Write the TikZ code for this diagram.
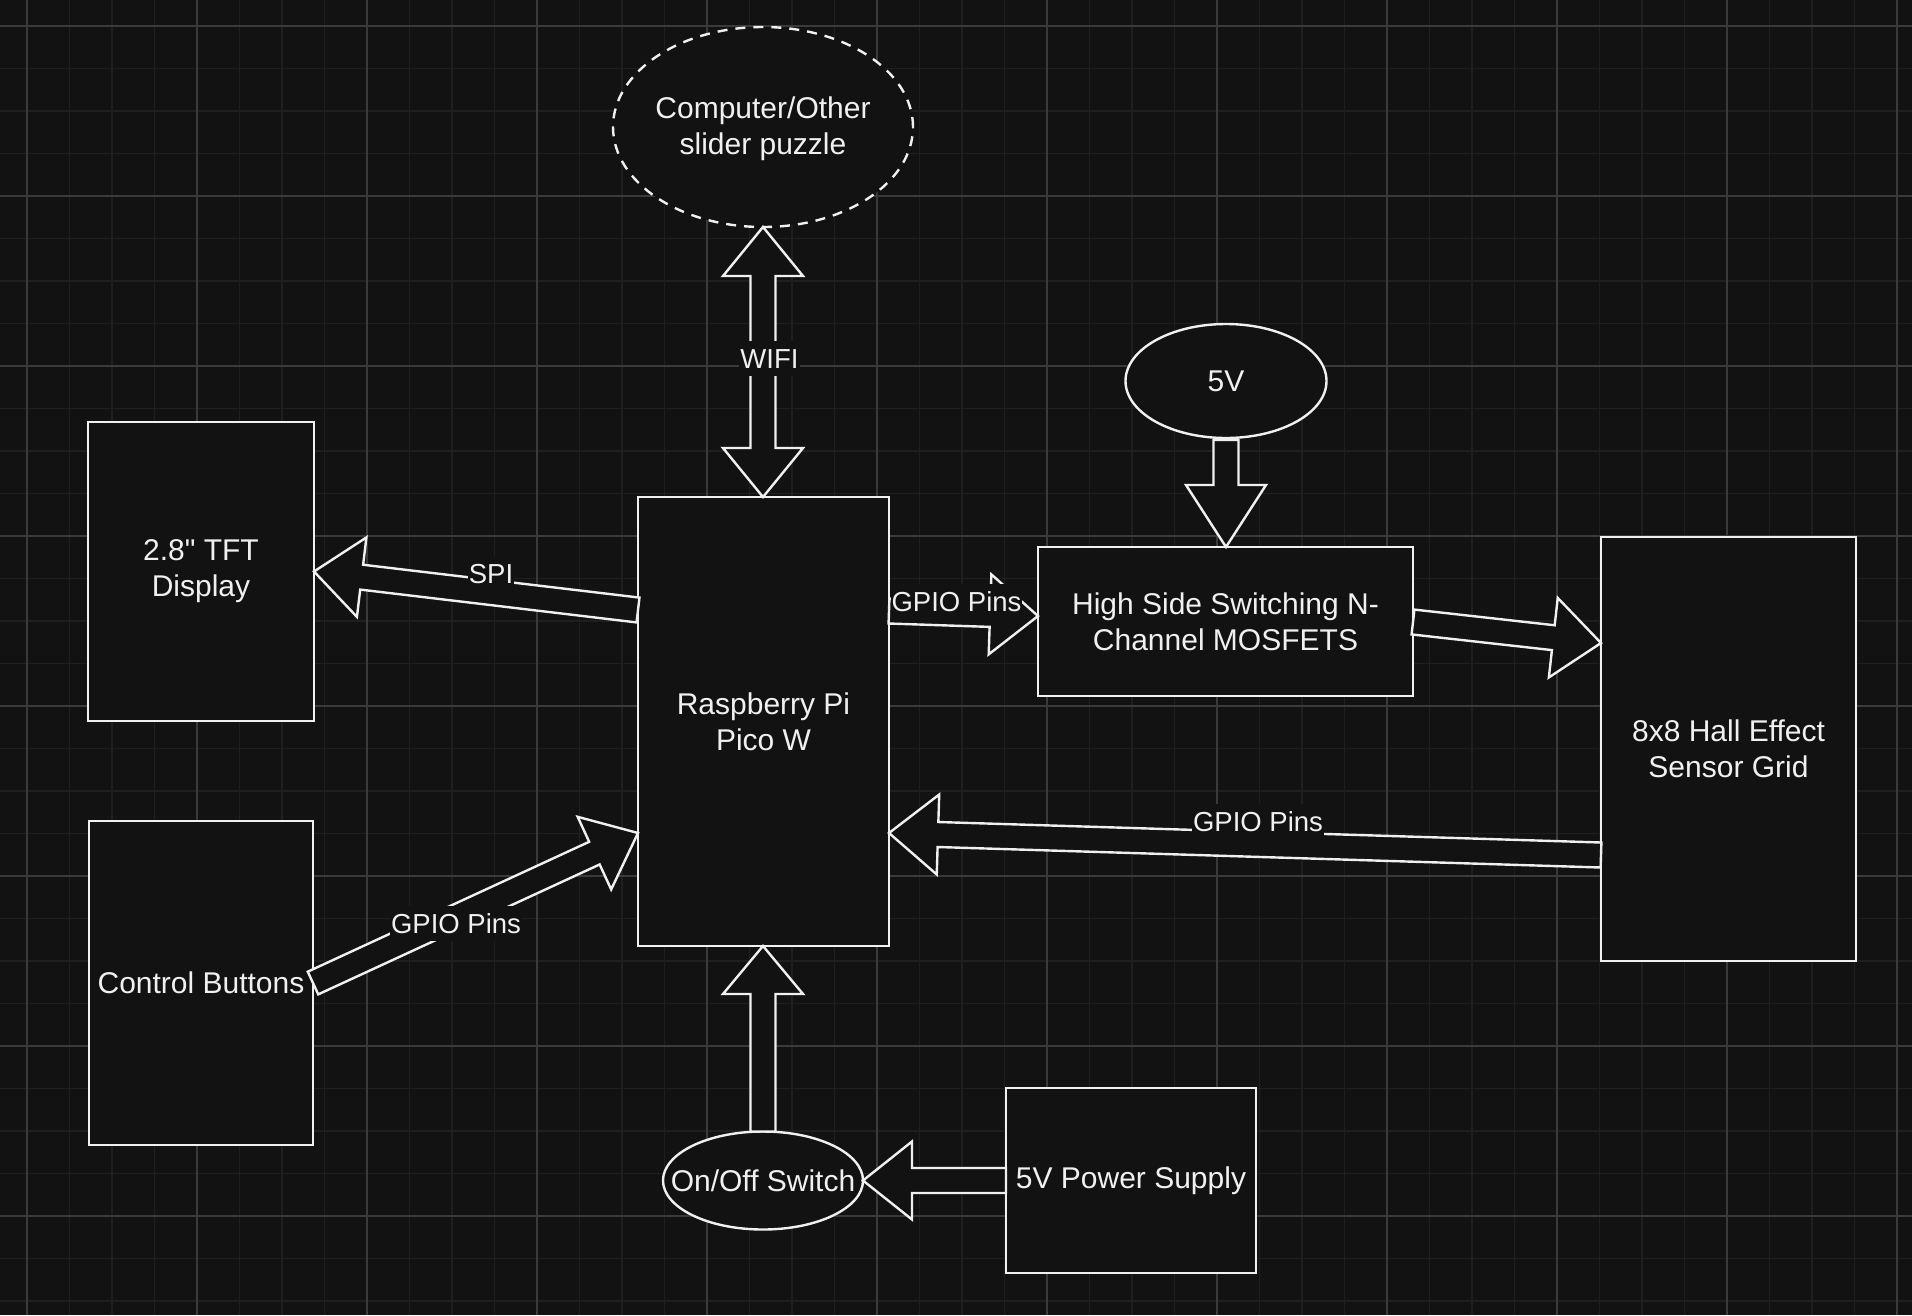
\documentclass[tikz,border=0pt]{standalone}
\usepackage{fontspec}
\newfontfamily\arialfont{Liberation Sans}
\usetikzlibrary{calc,shapes.geometric}
\definecolor{bg}{HTML}{121212}
\definecolor{fg}{HTML}{F0F0F0}
\definecolor{gridminor}{HTML}{1F1F1F}
\definecolor{gridmajor}{HTML}{3A3A3A}

% single-headed flex arrow: #1 start, #2 tip, #3 shaft half width, #4 head half width, #5 head length
\newcommand\flexarrow[5]{%
  \draw[flex]
    ($(#1)!#3pt!90:(#2)$) --
    ($(#2)!#5pt!(#1)!#3pt!-90:(#1)$) --
    ($(#2)!#5pt!(#1)!#4pt!-90:(#1)$) --
    (#2) --
    ($(#2)!#5pt!(#1)!#4pt!90:(#1)$) --
    ($(#2)!#5pt!(#1)!#3pt!90:(#1)$) --
    ($(#1)!#3pt!-90:(#2)$) -- cycle;}
% double-headed flex arrow
\newcommand\flexboth[5]{%
  \draw[flex]
    (#1) --
    ($(#1)!#5pt!(#2)!#4pt!90:(#2)$) --
    ($(#1)!#5pt!(#2)!#3pt!90:(#2)$) --
    ($(#2)!#5pt!(#1)!#3pt!-90:(#1)$) --
    ($(#2)!#5pt!(#1)!#4pt!-90:(#1)$) --
    (#2) --
    ($(#2)!#5pt!(#1)!#4pt!90:(#1)$) --
    ($(#2)!#5pt!(#1)!#3pt!90:(#1)$) --
    ($(#1)!#5pt!(#2)!#3pt!-90:(#2)$) --
    ($(#1)!#5pt!(#2)!#4pt!-90:(#2)$) -- cycle;}

\begin{document}
\begin{tikzpicture}[x=1pt,y=-1pt,
  box/.style={draw=fg, fill=bg, line width=2.4pt, text=fg, align=center,
    inner sep=0pt, outer sep=0pt, font=\arialfont\fontsize{30}{36}\selectfont},
  oval/.style={draw=fg, fill=bg, line width=2.4pt, ellipse, inner sep=0pt, outer sep=0pt},
  ovaltext/.style={text=fg, align=center, inner sep=0pt, font=\arialfont\fontsize{30}{36}\selectfont},
  flex/.style={draw=fg, fill=bg, line width=2.4pt, line join=miter},
  lbl/.style={fill=bg, text=fg, inner xsep=1pt, inner ysep=0pt,
    text height=27pt, text depth=8pt, anchor=base,
    font=\arialfont\fontsize{27.5}{33}\selectfont},
  minorline/.style={draw=gridminor, line width=1.2pt},
  majorline/.style={draw=gridmajor, line width=1.4pt}]

\useasboundingbox (0,0) rectangle (1912,1315);
\fill[bg] (0,0) rectangle (1912,1315);
% grid
\foreach \i in {-1,...,44} {\draw[minorline] ({27+42.5*\i},0) -- ({27+42.5*\i},1315);}
\foreach \j in {-1,...,30} {\draw[minorline] (0,{26+42.5*\j}) -- (1912,{26+42.5*\j});}
\foreach \i in {0,...,11} {\draw[majorline] ({27+170*\i},0) -- ({27+170*\i},1315);}
\foreach \j in {0,...,7} {\draw[majorline] (0,{26+170*\j}) -- (1912,{26+170*\j});}

% nodes
\node[oval, dash pattern=on 10pt off 8pt, minimum width=300pt, minimum height=200pt,
  label={[ovaltext, yshift=-2pt]center:Computer/Other\\slider puzzle}] (comp) at (763,127) {};
\node[box, minimum width=226pt, minimum height=299pt] (tft) at (201,571.5) {\raisebox{-2pt}{}2.8" TFT\\Display};
\node[box, minimum width=224pt, minimum height=324pt] (ctrl) at (201,983) {Control Buttons};
\node[box, minimum width=251pt, minimum height=449pt] (pi) at (763.5,721.5) {Raspberry Pi\\Pico W};
\node[oval, minimum width=201pt, minimum height=114pt,
  label={[ovaltext]center:5V}] (fivev) at (1226,381) {};
\node[box, minimum width=375pt, minimum height=149pt] (mos) at (1225.5,621.5) {High Side Switching N-\\Channel MOSFETS};
\node[box, minimum width=255pt, minimum height=424pt] (hall) at (1728.5,749) {8x8 Hall Effect\\Sensor Grid};
\node[oval, minimum width=200pt, minimum height=98pt,
  label={[ovaltext]center:On/Off Switch}] (sw) at (763,1180.5) {};
\node[box, minimum width=250pt, minimum height=185pt] (ps) at (1131,1180.5) {5V Power Supply};

% connector end points
\coordinate (wA) at (comp.south);
\coordinate (wB) at (comp.south |- pi.north);
\coordinate (spiA) at ($(pi.west)+(0,-111.5)$);
\coordinate (g1A) at ($(pi.east)+(0,-110.5)$);
\coordinate (g1B) at ($(mos.west)+(0,-5.5)$);
\coordinate (mhA) at ($(mos.east)+(0,0.5)$);
\coordinate (mhB) at ($(hall.west)+(0,-106)$);
\coordinate (vA) at ($(fivev.south)+(0,2)$);
\coordinate (vB) at (fivev.south |- mos.north);
\coordinate (hpA) at ($(hall.west)+(0,106)$);
\coordinate (hpB) at ($(pi.east)+(0,111.5)$);
\coordinate (cpB) at ($(pi.west)+(0,111.5)$);
\coordinate (spB) at (sw.north |- pi.south);

% connectors
\flexboth{wA}{wB}{12.5}{40}{49}
\flexarrow{spiA}{tft.east}{12.5}{40}{48}
\flexarrow{g1A}{g1B}{12.5}{40}{48}
\flexarrow{mhA}{mhB}{12.5}{40}{48}
\flexarrow{vA}{vB}{12.5}{40}{62}
\flexarrow{hpA}{hpB}{12.5}{40}{49}
\flexarrow{ctrl.east}{cpB}{12.5}{40}{48}
\flexarrow{sw.north}{spB}{12.5}{40}{48}
\flexarrow{ps.west}{sw.east}{12.5}{39}{49}

% connector labels
\node[lbl] (lwifi) at (769.5,368) {WIFI};
\node[lbl] (lspi) at (491,583) {SPI};
\node[lbl] (lg1) at (956.5,611) {GPIO Pins};
\node[lbl] (lg2) at (1258,831) {GPIO Pins};
\node[lbl] (lg3) at (456,933) {GPIO Pins};
\end{tikzpicture}
\end{document}
